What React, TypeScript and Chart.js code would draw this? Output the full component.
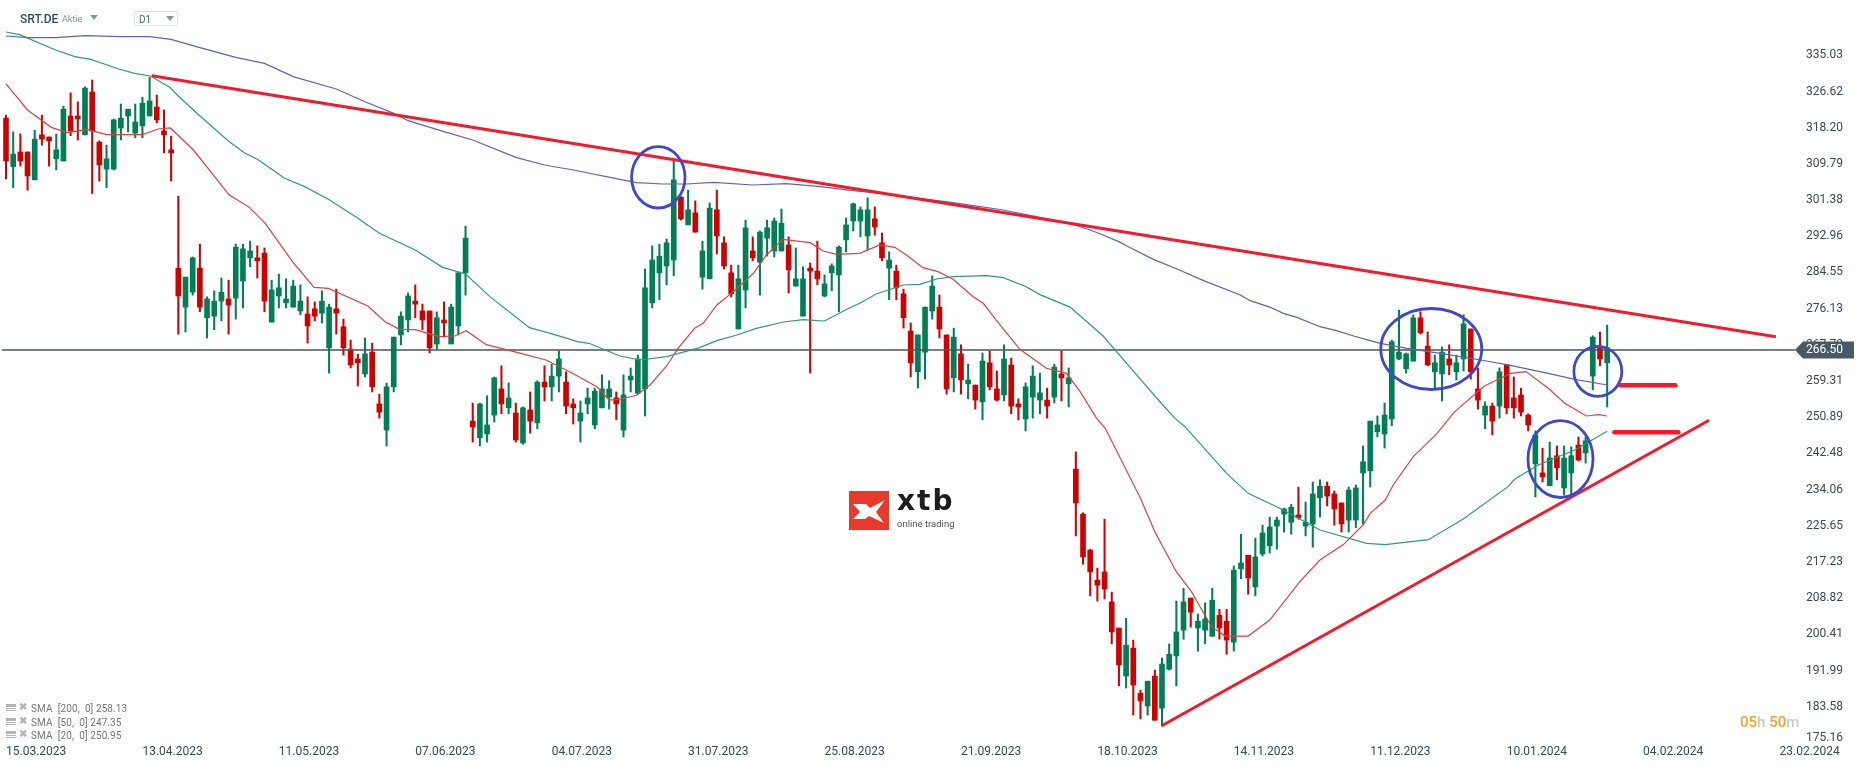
import React, { useEffect, useRef } from 'react';
import { Chart, registerables } from 'chart.js';

Chart.register(...registerables);

// daily candles
const open = [
  320.6, 309.3, 312.7, 312.7, 306.2, 316.7, 316.2, 311.1, 310.6, 321.1, 321.1, 316.7, 326.7, 315.0, 308.7, 308.7,
  318.3, 321.1, 317.1, 318.8, 321.1, 323.2, 317.6, 313.2, 285.6, 276.5, 280.0, 285.6, 274.0, 274.4, 277.9, 278.4,
  278.6, 282.6, 288.0, 288.0, 289.1, 273.0, 279.1, 277.5, 276.5, 275.6, 274.9, 276.1, 275.1, 267.0, 276.1, 271.9,
  266.7, 264.4, 260.9, 266.0, 253.9, 247.8, 257.9, 270.0, 273.5, 277.9, 275.6, 275.6, 267.9, 273.5, 267.9, 272.1,
  284.5, 249.9, 246.0, 246.9, 251.3, 257.4, 253.0, 251.8, 244.8, 252.5, 249.5, 259.0, 257.9, 260.4, 259.0, 253.9,
  249.9, 253.9, 249.0, 253.0, 255.5, 255.3, 247.8, 259.5, 256.4, 257.4, 277.5, 284.5, 286.1, 287.5, 302.2, 295.7,
  298.5, 283.5, 283.1, 299.2, 291.5, 284.5, 271.4, 280.5, 289.6, 287.0, 292.6, 289.6, 289.6, 291.0, 281.4, 274.4,
  285.6, 284.9, 279.1, 284.5, 284.0, 292.2, 296.6, 296.6, 293.1, 297.1, 291.5, 285.6, 284.9, 279.6, 270.9, 261.4,
  266.0, 275.6, 276.5, 270.0, 260.0, 265.6, 258.6, 258.3, 254.4, 263.5, 257.4, 256.0, 263.0, 253.9, 250.4, 255.5,
  254.8, 254.8, 255.5, 260.9, 258.6, 238.7, 228.2, 219.8, 212.8, 214.7, 207.7, 201.6, 190.4, 196.9, 186.4, 183.4,
  190.4, 182.9, 192.0, 195.1, 201.1, 208.6, 201.6, 201.1, 199.7, 204.6, 203.2, 198.3, 215.4, 218.6, 211.2, 218.9,
  220.8, 225.4, 228.2, 226.3, 228.0, 225.4, 225.9, 232.0, 234.7, 232.9, 230.8, 226.8, 226.8, 237.8, 238.3, 247.4,
  246.9, 250.4, 264.4, 262.1, 263.9, 274.0, 267.4, 261.4, 260.9, 264.4, 261.4, 264.4, 271.4, 257.4, 251.3, 253.4,
  253.4, 263.0, 255.3, 256.0, 251.3, 239.9, 237.8, 234.8, 241.8, 234.3, 237.8, 244.3, 242.5, 260.4, 267.0, 263.5,
];
const close = [
  310.6, 312.2, 310.6, 307.1, 315.7, 315.7, 315.3, 313.2, 322.7, 317.6, 320.4, 327.6, 317.6, 309.7, 311.1, 320.2,
  320.6, 322.7, 319.7, 324.1, 324.6, 320.2, 316.7, 312.5, 279.1, 283.5, 288.0, 276.5, 278.4, 277.9, 280.0, 277.0,
  290.5, 290.1, 289.6, 287.3, 277.9, 280.5, 281.0, 278.4, 281.4, 277.9, 272.1, 274.4, 277.9, 276.5, 275.1, 267.0,
  263.0, 263.5, 265.6, 257.9, 252.0, 257.9, 269.5, 274.4, 279.1, 277.2, 273.5, 267.0, 274.0, 272.8, 276.5, 284.5,
  292.6, 248.5, 253.9, 249.0, 260.0, 253.9, 255.3, 245.5, 253.0, 249.9, 259.0, 257.9, 260.4, 264.4, 253.4, 253.0,
  251.8, 255.3, 256.9, 257.4, 257.4, 253.9, 256.0, 260.4, 264.4, 281.0, 287.5, 288.4, 291.5, 306.2, 297.1, 299.2,
  294.0, 289.6, 299.6, 293.1, 286.1, 279.6, 283.1, 295.0, 288.0, 294.0, 295.0, 296.6, 296.1, 285.2, 283.1, 283.1,
  284.9, 283.1, 281.9, 286.1, 290.5, 295.7, 300.6, 299.2, 299.2, 295.2, 288.0, 287.5, 281.0, 274.0, 263.5, 270.0,
  276.5, 281.4, 271.4, 257.4, 269.5, 259.5, 259.5, 254.8, 263.9, 257.9, 254.8, 264.4, 253.4, 253.2, 257.9, 260.4,
  256.5, 253.4, 262.5, 260.0, 260.0, 230.8, 218.2, 214.7, 211.6, 210.7, 200.7, 193.0, 197.6, 188.3, 184.6, 189.2,
  180.1, 193.2, 195.5, 200.7, 207.7, 205.3, 203.2, 203.7, 208.1, 201.6, 198.8, 215.1, 216.8, 213.3, 218.2, 223.8,
  225.2, 226.8, 229.4, 229.8, 227.3, 226.3, 232.9, 234.7, 232.4, 229.4, 225.9, 233.8, 234.3, 240.4, 249.9, 249.0,
  251.3, 268.4, 266.0, 265.6, 274.0, 270.5, 263.0, 263.5, 266.0, 263.0, 263.5, 272.6, 261.4, 254.8, 253.4, 249.9,
  261.4, 253.0, 253.0, 252.0, 249.0, 246.7, 236.9, 241.3, 239.0, 241.3, 241.8, 240.8, 245.3, 269.5, 264.4, 267.0,
];
const high = [
  321.3, 317.4, 316.9, 312.7, 317.8, 321.3, 316.2, 316.9, 323.4, 326.5, 324.4, 327.9, 329.5, 315.3, 314.3, 320.4,
  323.9, 322.7, 323.9, 325.5, 330.1, 326.0, 322.5, 316.4, 302.4, 283.5, 288.2, 291.2, 278.9, 280.3, 283.3, 282.8,
  291.2, 291.2, 291.9, 290.8, 290.3, 282.8, 284.2, 283.1, 282.8, 281.7, 278.9, 277.7, 280.3, 277.2, 280.7, 273.7,
  268.8, 265.5, 269.3, 268.1, 256.2, 258.8, 269.5, 275.4, 279.8, 281.7, 277.2, 275.6, 275.4, 277.7, 277.2, 284.7,
  295.4, 254.1, 254.1, 255.8, 260.2, 262.8, 258.8, 254.1, 253.2, 256.7, 259.3, 262.8, 263.2, 266.3, 261.4, 255.1,
  254.6, 257.6, 257.6, 260.7, 259.3, 256.7, 260.7, 262.3, 265.3, 285.4, 290.8, 291.2, 292.4, 310.7, 302.2, 303.8,
  301.3, 291.9, 300.8, 303.8, 292.9, 286.3, 286.3, 296.8, 292.9, 294.3, 296.8, 297.3, 299.4, 292.9, 290.3, 285.9,
  286.8, 291.9, 284.0, 286.6, 290.8, 297.3, 300.8, 299.9, 302.0, 299.9, 293.8, 289.4, 286.3, 280.7, 272.8, 270.0,
  276.5, 283.8, 279.3, 270.0, 271.6, 267.7, 263.2, 258.3, 265.8, 266.3, 261.6, 267.7, 264.6, 255.1, 258.8, 262.8,
  261.1, 257.6, 263.2, 266.3, 262.3, 242.7, 228.5, 220.0, 215.6, 227.0, 210.0, 201.6, 203.9, 198.8, 187.1, 189.2,
  191.8, 194.6, 197.9, 207.9, 210.9, 208.6, 204.9, 207.5, 210.9, 206.0, 206.0, 216.1, 223.5, 218.6, 222.6, 225.6,
  227.5, 227.5, 229.6, 230.5, 234.5, 231.0, 235.7, 236.2, 235.7, 233.6, 230.8, 234.5, 235.0, 244.1, 249.9, 251.1,
  254.1, 268.8, 275.8, 265.8, 274.7, 275.4, 270.7, 265.3, 267.2, 267.7, 265.3, 274.7, 271.4, 262.3, 254.4, 254.1,
  262.3, 263.0, 260.2, 257.6, 251.6, 247.6, 243.6, 245.0, 244.1, 244.1, 243.9, 246.2, 246.2, 269.8, 270.7, 272.3,
];
const low = [
  306.4, 304.4, 309.4, 303.8, 306.2, 314.3, 309.4, 308.5, 310.6, 316.5, 315.5, 316.7, 303.0, 305.9, 304.4, 308.5,
  315.5, 317.4, 316.0, 316.0, 321.1, 319.5, 312.5, 305.9, 270.2, 270.7, 279.3, 275.4, 269.3, 271.2, 273.3, 270.2,
  273.7, 276.3, 285.9, 283.3, 275.4, 273.0, 276.3, 276.3, 276.5, 274.7, 268.1, 273.3, 272.8, 261.1, 270.2, 265.3,
  262.3, 258.1, 260.2, 256.7, 250.6, 244.1, 256.7, 267.7, 270.7, 274.0, 271.2, 265.8, 266.7, 269.5, 267.9, 270.0,
  279.3, 245.0, 244.1, 245.0, 249.7, 251.6, 251.6, 245.0, 244.5, 247.1, 248.1, 254.6, 254.6, 256.7, 251.6, 249.2,
  245.0, 251.6, 248.1, 253.0, 252.7, 250.2, 246.2, 256.7, 256.2, 251.1, 276.3, 278.2, 281.7, 283.8, 296.8, 295.7,
  294.0, 280.7, 283.1, 288.9, 285.4, 278.9, 271.4, 276.3, 287.3, 279.3, 288.4, 288.2, 289.6, 279.8, 281.4, 274.4,
  261.1, 281.7, 278.9, 280.3, 275.4, 289.4, 294.3, 292.9, 289.8, 293.3, 287.3, 278.2, 278.2, 271.6, 260.2, 257.6,
  259.7, 273.7, 269.3, 256.2, 256.7, 256.2, 255.1, 252.7, 250.2, 257.2, 254.6, 254.6, 251.6, 250.2, 247.6, 250.6,
  251.6, 250.6, 254.1, 254.6, 253.2, 223.1, 216.5, 209.1, 207.9, 208.4, 197.9, 188.1, 187.6, 181.3, 180.4, 181.3,
  180.1, 179.0, 191.8, 188.1, 199.0, 201.8, 196.2, 197.9, 199.7, 199.0, 195.5, 196.2, 213.1, 209.5, 209.1, 218.4,
  219.1, 220.0, 224.0, 223.5, 227.0, 223.1, 220.5, 227.5, 230.1, 225.6, 224.0, 224.0, 225.0, 225.9, 234.5, 246.2,
  243.6, 248.8, 264.2, 261.1, 263.9, 270.2, 262.8, 257.4, 254.6, 260.7, 259.5, 261.6, 259.7, 252.7, 248.1, 246.7,
  250.6, 251.6, 250.6, 251.1, 247.6, 232.2, 235.7, 234.8, 236.2, 232.7, 232.7, 240.6, 240.1, 257.2, 262.8, 253.2,
];

// moving averages, sampled at candle positions
const sma200Idx = [
  0, 3, 7, 11, 16, 20, 23, 27, 32, 36, 40, 46, 50, 54, 56, 61, 65, 71, 75, 79, 85.5, 87.8, 91.5, 94.8, 98.5, 104,
  108.7, 113.4, 118, 122.6, 131.9, 138.9, 145.9, 148.2, 151, 152.8, 155.2, 156.1, 159.8, 163.1, 166.8, 171.9, 173.3,
  176.1, 177.9, 179.8, 183, 185.3, 187.7, 190, 191.4, 195.1, 199.8, 205.4, 209.2, 214.8, 218.5, 223,
];
const sma200 = [
  339.77, 339.38, 339.38, 339.85, 339.61, 339.61, 338.99, 337.05, 334.79, 333.39, 330.28, 327.4, 324.44, 321.72,
  320.01, 317.44, 315.5, 311.45, 309.66, 308.5, 306.32, 305.55, 305.23, 305.23, 305.62, 305.0, 305.31, 304.61, 303.68,
  302.9, 300.88, 299.17, 296.83, 296.05, 294.49, 293.33, 291.61, 290.76, 287.65, 285.39, 282.67, 279.32, 278.0,
  276.45, 275.05, 274.11, 271.93, 271.0, 269.76, 268.67, 268.05, 266.88, 265.72, 264.16, 263.0, 261.05, 259.65, 258.33,
];
const sma50Idx = [
  0, 1.9, 6.9, 9.6, 11.8, 15.7, 17.9, 20.1, 22.8, 24, 26.7, 31.1, 33.3, 35, 38.8, 41.6, 44.9, 48.7, 52, 57, 60.8, 64,
  67.4, 72.9, 76.3, 79.6, 81.2, 85.5, 88.3, 92, 96.6, 99, 101.8, 104.5, 108.3, 111, 114, 117.1, 118.9, 121.2, 125,
  127.3, 129.6, 131.9, 136.6, 138.9, 142.1, 144, 148.2, 152.8, 156.8, 160.5, 162.8, 164.2, 170, 173, 177.9, 183, 189.5,
  192.1, 198.1, 202.9, 209.2, 210.1, 213.4, 218.5, 223,
];
const sma50 = [
  340.7, 340.08, 336.5, 334.95, 334.32, 332.07, 331.06, 330.43, 327.79, 325.77, 321.57, 315.11, 312.39, 310.99, 306.55,
  304.61, 301.65, 297.61, 293.72, 289.83, 285.78, 284.23, 278.94, 271.7, 270.15, 268.44, 268.05, 265.09, 264.16,
  264.94, 267.04, 268.67, 270.0, 271.55, 273.03, 273.57, 273.26, 275.99, 277.39, 279.56, 281.66, 281.82, 283.06,
  283.61, 283.84, 283.37, 281.27, 279.41, 276.5, 269.76, 261.98, 254.82, 250.54, 248.6, 237.71, 233.04, 229.15, 224.48,
  221.37, 221.06, 222.23, 226.98, 234.6, 236.31, 239.66, 243.16, 247.51,
];
const sma20Idx = [
  0, 3, 6.3, 8.5, 11.3, 14, 19, 21.2, 22.9, 26.1, 31.1, 33.9, 36.1, 39.9, 42.9, 44.9, 50.4, 52.8, 54.8, 57, 60.3, 62.5,
  64.1, 66.9, 71.3, 75.2, 78.5, 82.3, 84, 85.5, 87.8, 89.7, 92, 93.6, 95.9, 97.1, 99, 101.3, 104.1, 105.9, 108.2, 112,
  113.8, 115.7, 118.9, 121.7, 123.8, 125.4, 127.7, 129.8, 131.9, 134.7, 136.1, 138, 141.2, 144.9, 147.7, 149.6, 151.9,
  153.1, 158, 160, 163, 165.1, 167.9, 169.8, 173, 176, 180.2, 183, 186.3, 189, 190, 192.1, 193.2, 196, 199.3, 201.7,
  205.9, 209.6, 211.7, 214.8, 217.1, 220.1, 221.8, 223,
];
const sma20 = [
  328.57, 322.5, 318.45, 317.21, 317.99, 316.74, 316.74, 318.06, 318.3, 313.16, 302.66, 299.78, 296.05, 287.1, 281.11,
  280.88, 276.76, 273.1, 271.31, 271.24, 269.6, 269.76, 271.0, 267.73, 265.87, 264.16, 261.43, 257.93, 254.82, 255.0,
  255.92, 258.33, 262.76, 266.88, 271.55, 272.72, 277.0, 280.11, 284.39, 288.66, 292.32, 291.54, 289.6, 288.82, 289.05,
  291.0, 290.45, 288.66, 285.71, 284.78, 282.99, 278.94, 277.39, 273.26, 266.65, 262.22, 261.05, 256.77, 250.54,
  248.21, 231.87, 224.09, 214.76, 210.09, 201.92, 199.74, 199.74, 203.48, 212.42, 217.48, 221.14, 225.65, 228.37,
  231.48, 234.98, 241.6, 247.04, 252.0, 258.09, 261.05, 261.44, 257.55, 254.05, 251.09, 251.4, 251.09,
];

// x axis and y axis labels
const dateLabels = [
  '15.03.2023', '13.04.2023', '11.05.2023', '07.06.2023', '04.07.2023', '31.07.2023', '25.08.2023',
  '21.09.2023', '18.10.2023', '14.11.2023', '11.12.2023', '10.01.2024', '04.02.2024', '23.02.2024',
];
const dateTicks = [0, 19, 38, 57, 76, 95, 114, 133, 152, 171, 190, 209, 228, 247];
const priceTicks = [
  335.03, 326.62, 318.2, 309.79, 301.38, 292.96, 284.55, 276.13, 267.72, 259.31, 250.89, 242.48, 234.06, 225.65, 217.23,
  208.82, 200.41, 191.99, 183.58, 175.16,
];
const lastPrice = 266.5;

// hand drawn analysis marks, [candle, price]
const trendLines = [
  [[20.3, 330.5], [246.5, 269.6]],
  [[160.9, 178.74], [237.2, 250.09]],
];
const levelMarks = [
  [[224.8, 258.25], [232.5, 258.25]],
  [[224, 247.28], [232.9, 247.28]],
];
// [candle, price, half width in candles, half height in price]
const ellipses = [
  [90.85, 306.79, 3.72, 7.16],
  [198.5, 266.72, 7.03, 9.45],
  [221.7, 261.52, 3.34, 5.83],
  [216.5, 241.05, 4.53, 8.98],
];

const legendRows = ['SMA  [200,  0] 258.13', 'SMA  [50,  0] 247.35', 'SMA  [20,  0] 250.95'];

const UP = '#007f56';
const DOWN = '#d00000';
const AXIS_TEXT = '#3c4a54';
const FONT = 'Roboto';

const toPoints = (xs: number[], ys: number[]) => xs.map((x, i) => ({ x, y: ys[i] }));
const pairPoints = (seg: number[][]) => seg.map(([x, y]) => ({ x, y }));
// the axis labels sit on a slightly wider spacing than the values were read against
const tickAt = (v: number) => (v - 0.965) / 0.99651;

// ellipses, the price tag and the one axis label that is pushed up off its tick
const marksPlugin = {
  id: 'marks',
  afterDatasetsDraw(chart: any) {
    const { ctx, scales } = chart;
    ctx.save();
    ctx.strokeStyle = '#3f48cc';
    ctx.lineWidth = 2.8;
    ellipses.forEach(([c, p, rc, rp]) => {
      const cx = scales.x.getPixelForValue(c);
      const cy = scales.y.getPixelForValue(p);
      const rx = scales.x.getPixelForValue(c + rc) - cx;
      const ry = cy - scales.y.getPixelForValue(p + rp);
      ctx.beginPath();
      ctx.ellipse(cx, cy, rx, ry, 0, 0, Math.PI * 2);
      ctx.stroke();
    });
    ctx.restore();
  },
  afterDraw(chart: any) {
    const { ctx, scales, chartArea } = chart;
    const y = scales.y.getPixelForValue(lastPrice);
    const r = chartArea.right;
    ctx.save();
    ctx.fillStyle = '#485a66';
    ctx.beginPath();
    ctx.moveTo(r, y);
    ctx.lineTo(r + 8, y - 8.5);
    ctx.lineTo(r + 59, y - 8.5);
    ctx.lineTo(r + 59, y + 8.5);
    ctx.lineTo(r + 8, y + 8.5);
    ctx.closePath();
    ctx.fill();
    ctx.font = `12px ${FONT}`;
    ctx.textBaseline = 'middle';
    ctx.textAlign = 'left';
    ctx.fillStyle = '#ffffff';
    ctx.fillText(lastPrice.toFixed(2), r + 11, y + 0.5);
    ctx.fillStyle = AXIS_TEXT;
    const lastTick = priceTicks[priceTicks.length - 1];
    ctx.fillText(lastTick.toFixed(2), r + 11, scales.y.getPixelForValue(tickAt(lastTick)) - 5);
    ctx.restore();
  },
};

const Logo = () => (
  <div style={{ position: 'absolute', left: 849, top: 491, width: 112, height: 42 }}>
    <svg width="40" height="39" style={{ position: 'absolute', left: 0, top: 0 }}>
      <rect width="40" height="39" fill="#e8392b" />
      <path d="M4 13 L17 13 L21 17 L36 9 L27 21 L35 32 L20 25 L16 28 L4 28 L11 21 Z" fill="#fff" />
    </svg>
    <div
      style={{
        position: 'absolute',
        left: 48,
        top: -7,
        font: 'bold 28px "DejaVu Sans"',
        letterSpacing: 2,
        color: '#1c1c1c',
      }}
    >
      xtb
    </div>
    <div
      style={{ position: 'absolute', left: 48, top: 27, font: `9.5px ${FONT}`, color: '#555', whiteSpace: 'nowrap' }}
    >
      online trading
    </div>
  </div>
);

const Header = () => (
  <>
    <div style={{ position: 'absolute', left: 20, top: 12, font: `500 12px ${FONT}`, color: '#3c4a54' }}>SRT.DE</div>
    <div style={{ position: 'absolute', left: 62, top: 14, font: `9px ${FONT}`, color: '#8a9299' }}>Aktie</div>
    <div
      style={{
        position: 'absolute',
        left: 90,
        top: 15,
        borderLeft: '4px solid transparent',
        borderRight: '4px solid transparent',
        borderTop: '5px solid #8a9299',
      }}
    />
    <div
      style={{
        position: 'absolute',
        left: 134,
        top: 11,
        width: 42,
        height: 13,
        border: '1px solid #dfe2e4',
        borderRadius: 2,
      }}
    />
    <div style={{ position: 'absolute', left: 139, top: 14, font: `10px ${FONT}`, color: '#5c6870' }}>D1</div>
    <div
      style={{
        position: 'absolute',
        left: 166,
        top: 16,
        borderLeft: '4px solid transparent',
        borderRight: '4px solid transparent',
        borderTop: '5px solid #8a9299',
      }}
    />
  </>
);

const Legend = () => (
  <>
    {legendRows.map((text, i) => (
      <div key={text} style={{ position: 'absolute', left: 6, top: 703 + i * 13.7, height: 12 }}>
        <div style={{ position: 'absolute', left: 0, top: 1, width: 10, height: 3, background: '#b5b5b5' }} />
        <div style={{ position: 'absolute', left: 0, top: 5, width: 10, height: 1, background: '#b5b5b5' }} />
        <div style={{ position: 'absolute', left: 0, top: 7, width: 10, height: 1, background: '#b5b5b5' }} />
        <div style={{ position: 'absolute', left: 13, top: -2, font: `bold 10px ${FONT}`, color: '#b5b5b5' }}>✖</div>
        <div
          style={{
            position: 'absolute',
            left: 25,
            top: 0,
            font: `10px ${FONT}`,
            letterSpacing: 0.1,
            color: '#777',
            whiteSpace: 'pre',
          }}
        >
          {text}
        </div>
      </div>
    ))}
  </>
);

const Countdown = () => (
  <div style={{ position: 'absolute', left: 1740, top: 713, font: `500 15px ${FONT}`, whiteSpace: 'pre', color: '#c8c8c8' }}>
    <span style={{ color: '#f5a028' }}>05</span>h <span style={{ color: '#f5a028' }}>50</span>m
  </div>
);

const App: React.FC = () => {
  const canvasRef = useRef<HTMLCanvasElement>(null);

  useEffect(() => {
    const colors = close.map((c, i) => (c >= open[i] ? UP : DOWN));
    const chart = new Chart(canvasRef.current as any, {
      type: 'bar',
      data: {
        datasets: [
          {
            data: high.map((h, i) => ({ x: i, y: [low[i], h] })),
            backgroundColor: colors,
            barThickness: 1.4,
            grouped: false,
            order: 4,
          },
          {
            data: open.map((o, i) => ({ x: i, y: [Math.min(o, close[i]), Math.max(o, close[i])] })),
            backgroundColor: colors,
            barThickness: 5,
            grouped: false,
            order: 3,
          },
          {
            type: 'line',
            data: [
              { x: -0.55, y: lastPrice },
              { x: 249.16, y: lastPrice },
            ],
            borderColor: '#4b5358',
            borderWidth: 1.4,
            pointRadius: 0,
            order: 2.5,
          },
          {
            type: 'line',
            data: toPoints(sma200Idx, sma200),
            borderColor: '#5c64bd',
            borderWidth: 1.2,
            pointRadius: 0,
            order: 2,
          },
          {
            type: 'line',
            data: toPoints(sma50Idx, sma50),
            borderColor: '#2f9a78',
            borderWidth: 1.2,
            pointRadius: 0,
            order: 2,
          },
          {
            type: 'line',
            data: toPoints(sma20Idx, sma20),
            borderColor: '#e04040',
            borderWidth: 1.2,
            pointRadius: 0,
            order: 2,
          },
          ...trendLines.map((seg) => ({
            type: 'line',
            data: pairPoints(seg),
            borderColor: '#f41a2c',
            borderWidth: 3,
            pointRadius: 0,
            order: 1,
          })),
          ...levelMarks.map((seg) => ({
            type: 'line',
            data: pairPoints(seg),
            borderColor: '#f41a2c',
            borderWidth: 4.5,
            borderCapStyle: 'round',
            pointRadius: 0,
            order: 1,
          })),
        ] as any,
      },
      options: {
        responsive: false,
        animation: false,
        plugins: { legend: { display: false }, tooltip: { enabled: false } },
        layout: { padding: 0 },
        scales: {
          x: {
            type: 'linear',
            offset: false,
            min: -0.836,
            max: 249.16,
            grid: { display: false, drawTicks: false },
            border: { display: false },
            ticks: {
              autoSkip: false,
              maxRotation: 0,
              align: 'start',
              padding: 0,
              color: AXIS_TEXT,
              font: { family: FONT, size: 12 },
              callback: (_v: any, i: number) => dateLabels[i],
            },
            afterBuildTicks: (s: any) => {
              s.ticks = dateTicks.map((value) => ({ value }));
            },
            afterFit: (s: any) => {
              s.height = 22;
              s.paddingLeft = 0;
              s.paddingRight = 0;
            },
          },
          y: {
            type: 'linear',
            position: 'right',
            min: 174.31,
            max: 348.17,
            grid: { display: false, drawTicks: false },
            border: { display: false },
            ticks: {
              autoSkip: false,
              crossAlign: 'near',
              padding: 11,
              color: AXIS_TEXT,
              font: { family: FONT, size: 12 },
              callback: (_v: any, i: number) => (i === priceTicks.length - 1 ? '' : priceTicks[i].toFixed(2)),
            },
            afterBuildTicks: (s: any) => {
              s.ticks = priceTicks.map((v) => ({ value: tickAt(v) }));
            },
            afterFit: (s: any) => {
              s.width = 71;
              s.paddingTop = 0;
              s.paddingBottom = 0;
            },
          },
        },
      } as any,
      plugins: [marksPlugin],
    });
    return () => chart.destroy();
  }, []);

  return (
    <div style={{ position: 'absolute', left: 0, top: 0, width: 1866, height: 767, background: '#fff', overflow: 'hidden' }}>
      <canvas ref={canvasRef} width={1866} height={767} style={{ display: 'block' }} />
      <Header />
      <Logo />
      <Legend />
      <Countdown />
    </div>
  );
};

export default App;
